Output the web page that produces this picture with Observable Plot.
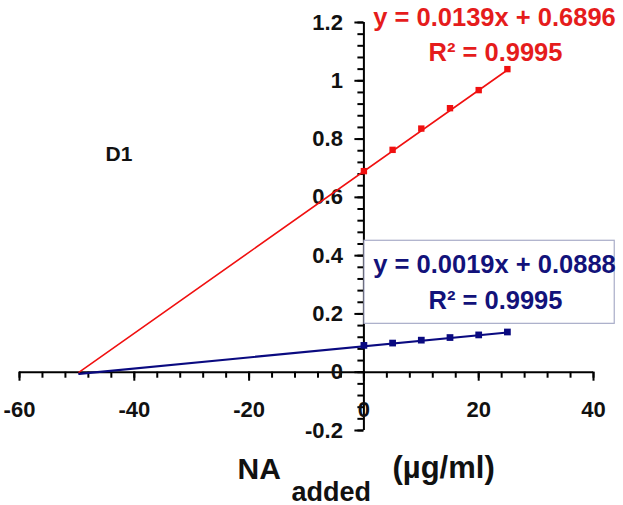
<!DOCTYPE html>
<html>
<head>
<meta charset="utf-8">
<script src="https://cdn.jsdelivr.net/npm/d3@7"></script>
<script src="https://cdn.jsdelivr.net/npm/@observablehq/plot@0.6"></script>
<style>
  html, body { margin: 0; padding: 0; background: #fff; }
</style>
</head>
<body>
<div id="chart"></div>
<script>
// ---- data ----
const xAdded = [0, 5, 10, 15, 20, 25];
const redValues = [0.690, 0.763, 0.836, 0.906, 0.968, 1.040];
const blueValues = [0.092, 0.100, 0.110, 0.119, 0.128, 0.138];

const redFit = {slope: 0.0139, intercept: 0.6896, r2: "0.9995"};
const blueFit = {slope: 0.0019, intercept: 0.0888, r2: "0.9995"};
const trendBackward = 49.6; // Excel backward forecast

const xTickValues = [-60, -40, -20, 0, 20, 40];
const xTickLabels = ["-60", "-40", "-20", "0", "20", "40"];
const yTickValues = [-0.2, 0, 0.2, 0.4, 0.6, 0.8, 1, 1.2];
const yTickLabels = ["-0.2", "0", "0.2", "0.4", "0.6", "0.8", "1", "1.2"];
const xMinorStep = 4;
const yMinorStep = 0.04;

const seriesLabel = "D1";

// ---- layout ----
const W = 623, H = 505;
const mL = 19, mR = 30, mT = 22, mB = 75;
const xDomain = [-60, 40], yDomain = [-0.2, 1.2];
const xPerPx = (xDomain[1] - xDomain[0]) / (W - mL - mR);
const yPerPx = (yDomain[1] - yDomain[0]) / (H - mT - mB);

const RED = "#f01010", RED_TXT = "#e51c1c";
const BLUE = "#0a0a80", BLUE_TXT = "#12127a";

const xMinor = d3.range(xDomain[0], xDomain[1] + 1e-9, xMinorStep);
const yMinor = d3.range(0, 36).map(i => +(yDomain[0] + i * yMinorStep).toFixed(2));

const red = xAdded.map((x, i) => ({x, y: redValues[i]}));
const blue = xAdded.map((x, i) => ({x, y: blueValues[i]}));
const xEnd = d3.max(xAdded);
const trend = (fit) => [-trendBackward, xEnd].map(x => ({x, y: fit.slope * x + fit.intercept}));

const eq = (fit) => `y = ${fit.slope.toFixed(4)}x + ${fit.intercept.toFixed(4)}`;
const font = "Liberation Sans, Arial, Helvetica, sans-serif";

const chart = Plot.plot({
  width: W,
  height: H,
  marginLeft: mL, marginRight: mR, marginTop: mT, marginBottom: mB,
  x: {domain: xDomain, axis: null},
  y: {domain: yDomain, axis: null},
  style: {fontFamily: font, background: "#fff", overflow: "visible"},
  marks: [
    // axes lines
    Plot.ruleY([0], {stroke: "#000", strokeWidth: 2}),
    Plot.ruleX([0], {stroke: "#000", strokeWidth: 2}),
    // x ticks (downward)
    Plot.ruleX(xMinor, {x: d => d, y1: 0, y2: -6 * yPerPx, stroke: "#000", strokeWidth: 2}),
    Plot.ruleX(xTickValues, {x: d => d, y1: 0, y2: -9 * yPerPx, stroke: "#000", strokeWidth: 2}),
    // y ticks (leftward)
    Plot.ruleY(yMinor, {y: d => d, x1: -6 * xPerPx, x2: 0, stroke: "#000", strokeWidth: 2}),
    Plot.ruleY(yTickValues, {y: d => d, x1: -9 * xPerPx, x2: 0, stroke: "#000", strokeWidth: 2}),
    // tick labels
    Plot.text(xTickValues, {x: d => d, y: 0, text: (d, i) => xTickLabels[i], dy: 38,
      fontSize: 22, fontWeight: "bold", fill: "#111"}),
    Plot.text(yTickValues, {x: 0, y: d => d, text: (d, i) => yTickLabels[i], dx: -21,
      textAnchor: "end", fontSize: 22, fontWeight: "bold", fill: "#111"}),
    // equation box (blue)
    Plot.rect([blueFit], {x1: 0.1, x2: 43.7, y1: 0.166, y2: 0.451,
      fill: "#fff", stroke: "#a8acc8", strokeWidth: 1.2}),
    // trendlines
    Plot.line(trend(redFit), {x: "x", y: "y", stroke: RED, strokeWidth: 1.6}),
    Plot.line(trend(blueFit), {x: "x", y: "y", stroke: BLUE, strokeWidth: 2.2}),
    // markers
    Plot.dot(red, {x: "x", y: "y", symbol: "square", r: 3.6, fill: RED, stroke: "none"}),
    Plot.dot(blue, {x: "x", y: "y", symbol: "square", r: 3.8, fill: BLUE, stroke: "none"}),
    // equations
    Plot.text([eq(redFit)], {frameAnchor: "top-left", text: d => d, dx: 475, dy: 3.5,
      lineAnchor: "bottom", textAnchor: "middle", fontSize: 25.5, fontWeight: "bold", fill: RED_TXT}),
    Plot.text([`R² = ${redFit.r2}`], {frameAnchor: "top-left", text: d => d, dx: 476, dy: 38,
      lineAnchor: "bottom", textAnchor: "middle", fontSize: 25.5, fontWeight: "bold", fill: RED_TXT}),
    Plot.text([eq(blueFit)], {frameAnchor: "top-left", text: d => d, dx: 475, dy: 250,
      lineAnchor: "bottom", textAnchor: "middle", fontSize: 25.5, fontWeight: "bold", fill: BLUE_TXT}),
    Plot.text([`R² = ${blueFit.r2}`], {frameAnchor: "top-left", text: d => d, dx: 476, dy: 286,
      lineAnchor: "bottom", textAnchor: "middle", fontSize: 25.5, fontWeight: "bold", fill: BLUE_TXT}),
    // series label
    Plot.text([seriesLabel], {frameAnchor: "top-left", text: d => d, dx: 86, dy: 138,
      lineAnchor: "bottom", textAnchor: "start", fontSize: 21, fontWeight: "bold", fill: "#111"}),
    // axis title: NA_added (µg/ml)
    Plot.text(["NA"], {frameAnchor: "top-left", text: d => d, dx: 218, dy: 456,
      lineAnchor: "bottom", textAnchor: "start", fontSize: 30, fontWeight: "bold", fill: "#111"}),
    Plot.text(["added"], {frameAnchor: "top-left", text: d => d, dx: 272, dy: 478,
      lineAnchor: "bottom", textAnchor: "start", fontSize: 27, fontWeight: "bold", fill: "#111"}),
    Plot.text(["(µg/ml)"], {frameAnchor: "top-left", text: d => d, dx: 373, dy: 455,
      lineAnchor: "bottom", textAnchor: "start", fontSize: 31, fontWeight: "bold", fill: "#111"})
  ]
});
document.getElementById("chart").appendChild(chart);
</script>
</body>
</html>
